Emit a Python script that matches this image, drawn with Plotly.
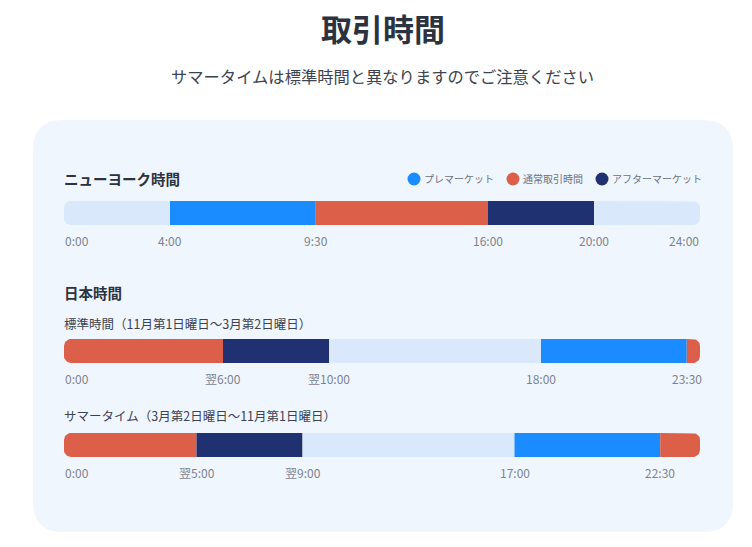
import numpy as np
import plotly.graph_objects as go

# ---------------- data ----------------
kinds_label = {"pre": "プレマーケット", "regular": "通常取引時間", "after": "アフターマーケット"}
kind_colors = {"closed": "#D9E8FA", "pre": "#1A8CFF", "regular": "#DC5F4A", "after": "#1F3170"}

ny_starts = [0, 4, 9.5, 16, 20]
ny_ends = [4, 9.5, 16, 20, 24]
ny_kinds = ["closed", "pre", "regular", "after", "closed"]
ny_tick_vals = [0, 4, 9.5, 16, 20, 24]
ny_tick_text = ["0:00", "4:00", "9:30", "16:00", "20:00", "24:00"]

std_starts = [0, 6, 10, 18, 23.5]
std_ends = [6, 10, 18, 23.5, 24]
std_kinds = ["regular", "after", "closed", "pre", "regular"]
std_tick_vals = [0, 6, 10, 18, 23.5]
std_tick_text = ["0:00", "翌6:00", "翌10:00", "18:00", "23:30"]

sum_starts = [0, 5, 9, 17, 22.5]
sum_ends = [5, 9, 17, 22.5, 24]
sum_kinds = ["regular", "after", "closed", "pre", "regular"]
sum_tick_vals = [0, 5, 9, 17, 22.5]
sum_tick_text = ["0:00", "翌5:00", "翌9:00", "17:00", "22:30"]

DAY_START, DAY_END = 0, 24

# ---------------- layout constants ----------------
W, H = 752, 547
X0_PX, PX_PER_H = 64, 26.5
BAR_H = 24
RADIUS = 7
ROW_Y = {"ny": 213, "std": 351, "sum": 445}
TICK_OFFSET = 27.5
FONT = "Noto Sans CJK JP, Noto Sans, sans-serif"


def px(x):
    return x / W


def py(y):
    return 1 - y / H


def segment_outline(s, e, yc, round_left, round_right):
    """Outline of one bar segment in axis units (x: hours, y: pixel rows)."""
    rx = RADIUS / PX_PER_H
    ry = RADIUS
    top, bot = yc - BAR_H / 2, yc + BAR_H / 2
    xs, ys = [], []

    def corner(cx, cy, a0, a1):
        a = np.radians(np.linspace(a0, a1, 10))
        xs.extend(cx + rx * np.cos(a))
        ys.extend(cy + ry * np.sin(a))

    # top-left
    if round_left:
        corner(s + rx, top + ry, 180, 270)
    else:
        xs.append(s); ys.append(top)
    # top-right
    if round_right:
        corner(e - rx, top + ry, 270, 360)
    else:
        xs.append(e); ys.append(top)
    # bottom-right
    if round_right:
        corner(e - rx, bot - ry, 0, 90)
    else:
        xs.append(e); ys.append(bot)
    # bottom-left
    if round_left:
        corner(s + rx, bot - ry, 90, 180)
    else:
        xs.append(s); ys.append(bot)
    xs.append(xs[0]); ys.append(ys[0])
    return xs, ys


rows = [
    ("ny", ny_starts, ny_ends, ny_kinds, ny_tick_vals, ny_tick_text),
    ("std", std_starts, std_ends, std_kinds, std_tick_vals, std_tick_text),
    ("sum", sum_starts, sum_ends, sum_kinds, sum_tick_vals, sum_tick_text),
]

fig = go.Figure()
annotations = []

for key, starts, ends, kinds, tvals, ttext in rows:
    yc = ROW_Y[key]
    for s, e, k in zip(starts, ends, kinds):
        xs, ys = segment_outline(s, e, yc, s == DAY_START, e == DAY_END)
        fig.add_trace(go.Scatter(
            x=xs, y=ys, mode="lines", fill="toself", fillcolor=kind_colors[k],
            line=dict(width=0, color=kind_colors[k]), hoverinfo="skip", showlegend=False,
        ))
    for v, t in zip(tvals, ttext):
        anchor = "left" if v == DAY_START else ("right" if v == DAY_END else "center")
        annotations.append(dict(
            x=v, y=yc + TICK_OFFSET, xref="x", yref="y", text=t, showarrow=False,
            xanchor=anchor, yanchor="middle", borderpad=0,
            font=dict(family=FONT, size=12, color="#7D838E"),
        ))


# panel rounded rect
def rounded_rect(x0, y0, x1, y1, r):
    pts = [
        ("M", [(x0 + r, y0)]), ("L", [(x1 - r, y0)]), ("Q", [(x1, y0), (x1, y0 + r)]),
        ("L", [(x1, y1 - r)]), ("Q", [(x1, y1), (x1 - r, y1)]),
        ("L", [(x0 + r, y1)]), ("Q", [(x0, y1), (x0, y1 - r)]),
        ("L", [(x0, y0 + r)]), ("Q", [(x0, y0), (x0 + r, y0)]),
    ]
    out = ""
    for cmd, ps in pts:
        out += cmd + " " + " ".join(f"{px(a):.5f},{py(b):.5f}" for a, b in ps) + " "
    return out + "Z"


shapes = [dict(type="path", xref="paper", yref="paper", layer="below",
               path=rounded_rect(33, 120, 733, 532, 30),
               fillcolor="#F0F6FE", line=dict(width=0))]

# legend
legend_items = [("pre", 414), ("regular", 513), ("after", 602)]
LEG_Y = 179
for k, cx in legend_items:
    shapes.append(dict(type="circle", xref="paper", yref="paper",
                       x0=px(cx - 6.5), x1=px(cx + 6.5), y0=py(LEG_Y + 6.5), y1=py(LEG_Y - 6.5),
                       fillcolor=kind_colors[k], line=dict(width=0)))
    annotations.append(dict(x=px(cx + 8), y=py(LEG_Y), xref="paper", yref="paper",
                            text=kinds_label[k], showarrow=False, xanchor="left", yanchor="middle",
                            font=dict(family=FONT, size=10, color="#6B717D")))

# texts
texts = [
    ("取引時間", W / 2 + 7, 27, "center", 31, "#2B3240", "bold"),
    ("サマータイムは標準時間と異なりますのでご注意ください", W / 2 + 6, 76, "center", 16.3, "#3D4350", "normal"),
    ("ニューヨーク時間", 63, 179, "left", 14.5, "#2B3240", "bold"),
    ("日本時間", 63, 292, "left", 14.5, "#2B3240", "bold"),
    ("標準時間（11月第1日曜日～3月第2日曜日）", 63, 323, "left", 12.5, "#3D4350", "normal"),
    ("サマータイム（3月第2日曜日～11月第1日曜日）", 63, 415, "left", 12.5, "#3D4350", "normal"),
]
for t, x, y, anc, size, col, wt in texts:
    annotations.append(dict(x=px(x), y=py(y), xref="paper", yref="paper", text=t, showarrow=False,
                            xanchor=anc, yanchor="middle", borderpad=0,
                            font=dict(family=FONT, size=size, color=col, weight=wt)))

fig.update_layout(
    width=W, height=H, margin=dict(l=0, r=0, t=0, b=0),
    paper_bgcolor="white", plot_bgcolor="rgba(0,0,0,0)",
    xaxis=dict(range=[-X0_PX / PX_PER_H, (W - X0_PX) / PX_PER_H], visible=False, fixedrange=True),
    yaxis=dict(range=[H, 0], visible=False, fixedrange=True),
    shapes=shapes, annotations=annotations, showlegend=False,
)

fig.write_html("out.html", config={"displayModeBar": False})
